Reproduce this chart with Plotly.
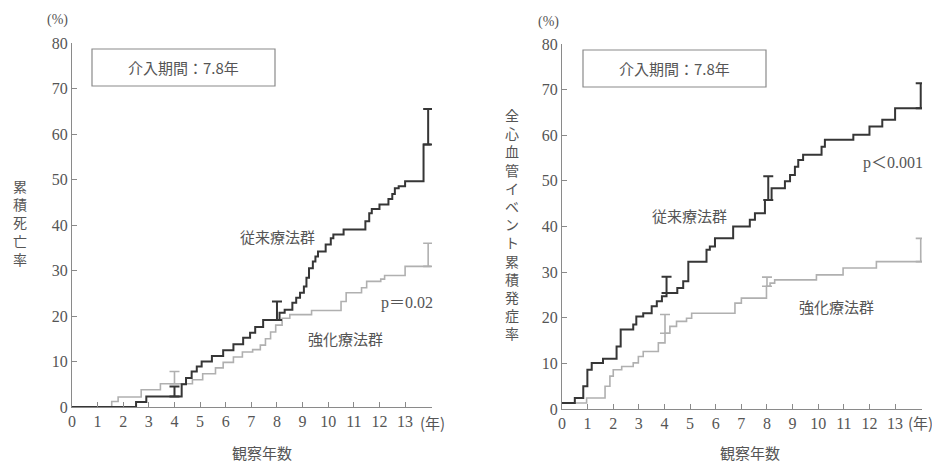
import plotly.graph_objects as go

# page body has an 8px default margin, so the figure is drawn inside it
OFF = 8
W, H = 940 - OFF, 464 - OFF

# ---------------- data ----------------
years_ticks = list(range(0, 14))

# Left panel: cumulative mortality (%)
L_conv_x = [0, 2.5, 2.9, 4.28, 4.45, 4.67, 4.87, 5.06, 5.46, 5.9, 6.3, 6.68, 6.95, 7.15, 7.46, 8.1, 8.3, 8.6, 8.75,
            8.9, 9.05, 9.15, 9.25, 9.4, 9.5, 9.6, 9.9, 10.1, 10.2, 10.6, 11.45, 11.6, 11.7, 12.0, 12.35, 12.5, 12.6,
            12.75, 13.0, 13.72, 14.0]
L_conv_y = [0, 1.1, 2.3, 5.0, 6.4, 7.8, 8.9, 10.0, 11.2, 12.5, 13.8, 15.2, 16.3, 17.6, 19.1, 20.7, 21.4, 22.9, 24.0,
            25.1, 26.5, 28.4, 30.5, 32.0, 33.1, 34.2, 35.7, 37.1, 37.9, 39.0, 40.8, 42.6, 43.5, 44.5, 45.7, 46.8, 48.1,
            48.5, 49.6, 57.7, 57.7]
L_int_x = [0, 1.55, 1.8, 2.7, 3.45, 4.7, 5.1, 5.6, 5.9, 6.3, 6.65, 7.05, 7.35, 7.55, 7.75, 7.95, 8.2, 8.5, 9.35,
           10.5, 10.7, 11.3, 11.5, 12.05, 12.2, 13.0, 14.0]
L_int_y = [0, 1.2, 2.2, 3.8, 5.1, 6.0, 7.3, 8.6, 9.8, 11.0, 12.1, 12.6, 13.6, 15.0, 16.5, 18.0, 19.5, 20.3, 21.2,
           23.2, 25.1, 26.2, 27.6, 28.1, 28.9, 30.9, 30.9]
L_conv_err_x = [4.0, 8.0, 13.9]
L_conv_err_y = [2.3, 19.1, 57.7]
L_conv_err_up = [2.2, 4.1, 7.8]
L_int_err_x = [4.0, 13.9]
L_int_err_y = [5.1, 30.9]
L_int_err_up = [2.7, 5.1]

# Right panel: cumulative total cardiovascular events (%)
R_conv_x = [0, 0.5, 0.83, 0.99, 1.16, 1.6, 2.13, 2.29, 2.78, 2.9, 3.17, 3.5, 3.7, 3.9, 4.08, 4.5, 4.73, 4.93, 5.64,
            5.77, 5.97, 6.68, 7.33, 7.53, 7.92, 8.18, 8.7, 8.9, 9.09, 9.22, 9.41, 10.13, 10.26, 11.37, 12.0, 12.5,
            13.0, 14.05]
R_conv_y = [1.3, 2.4, 5.0, 8.6, 10.1, 11.0, 13.7, 17.4, 18.5, 20.3, 21.0, 22.5, 23.6, 24.7, 25.4, 26.5, 28.0, 32.3,
            34.9, 35.6, 37.4, 40.0, 41.5, 42.9, 45.8, 48.4, 49.9, 51.3, 53.1, 54.6, 55.7, 57.5, 59.0, 60.1, 61.9,
            63.4, 65.9, 65.9]
R_int_x = [0, 0.96, 1.68, 1.87, 2.0, 2.33, 2.78, 2.98, 3.17, 3.76, 4.02, 4.21, 4.47, 4.86, 5.06, 6.75, 7.0, 7.98,
           8.12, 8.3, 9.93, 10.97, 12.27, 14.05]
R_int_y = [1.3, 2.4, 5.0, 7.2, 8.6, 9.3, 10.1, 11.5, 12.6, 14.5, 16.6, 18.1, 19.2, 19.9, 21.0, 23.2, 24.3, 26.9,
           27.6, 28.3, 29.4, 30.9, 32.3, 32.3]
R_conv_err_x = [4.08, 8.05, 14.0]
R_conv_err_y = [25.4, 45.8, 65.9]
R_conv_err_up = [3.6, 5.2, 5.5]
R_int_err_x = [4.02, 8.0, 14.0]
R_int_err_y = [16.6, 26.9, 32.3]
R_int_err_up = [4.1, 2.0, 5.1]

# ---------------- styling ----------------
DARK = "#363636"
LIGHT = "#b0b0b0"
AXIS = "#8a8a8a"
TXT = "#555555"
SERIF = "Liberation Serif, DejaVu Serif, serif"
JP = "Noto Sans CJK JP, sans-serif"
MIX = "Liberation Serif, Noto Sans CJK JP, serif"


def px(x):
    return (x - OFF) / W


def py(y):
    return 1 - (y - OFF) / H


fig = go.Figure()


def add_steps(x, y, color, width, xa, ya):
    fig.add_trace(go.Scatter(x=x, y=y, mode="lines", line=dict(color=color, width=width, shape="hv"),
                             xaxis=xa, yaxis=ya, showlegend=False, hoverinfo="skip", cliponaxis=False))


def add_err(x, y, up, color, width, xa, ya):
    fig.add_trace(go.Scatter(x=x, y=y, mode="markers", marker=dict(size=1, color="rgba(0,0,0,0)"),
                             error_y=dict(type="data", symmetric=False, array=up, arrayminus=[0] * len(up),
                                          color=color, thickness=width, width=5),
                             xaxis=xa, yaxis=ya, showlegend=False, hoverinfo="skip", cliponaxis=False))


add_steps(L_int_x, L_int_y, LIGHT, 1.6, "x", "y")
add_steps(L_conv_x, L_conv_y, DARK, 2.0, "x", "y")
add_err(L_int_err_x, L_int_err_y, L_int_err_up, LIGHT, 1.6, "x", "y")
add_err(L_conv_err_x, L_conv_err_y, L_conv_err_up, DARK, 2.0, "x", "y")

add_steps(R_int_x, R_int_y, LIGHT, 1.6, "x2", "y2")
add_steps(R_conv_x, R_conv_y, DARK, 2.0, "x2", "y2")
add_err(R_int_err_x, R_int_err_y, R_int_err_up, LIGHT, 1.6, "x2", "y2")
add_err(R_conv_err_x, R_conv_err_y, R_conv_err_up, DARK, 2.0, "x2", "y2")

xcommon = dict(range=[0, 14.05], tickvals=years_ticks, ticks="inside", ticklen=5, tickcolor=AXIS,
               showline=True, linecolor=AXIS, linewidth=1.2, showgrid=False, zeroline=False, automargin=False,
               tickfont=dict(family=SERIF, size=16, color=TXT), fixedrange=True)
ycommon = dict(range=[0, 80], tickvals=list(range(0, 81, 10)), ticks="inside", ticklen=5, tickcolor=AXIS,
               showline=True, linecolor=AXIS, linewidth=1.2, showgrid=False, zeroline=False, automargin=False,
               tickfont=dict(family=SERIF, size=16, color=TXT), fixedrange=True)

fig.update_layout(
    template="none",
    width=W, height=H, margin=dict(l=0, r=0, t=0, b=0, pad=0),
    paper_bgcolor="white", plot_bgcolor="white",
    xaxis=dict(domain=[px(72), px(432)], anchor="y", **xcommon),
    yaxis=dict(domain=[py(407), py(43)], anchor="x", **ycommon),
    xaxis2=dict(domain=[px(562), px(922)], anchor="y2", **xcommon),
    yaxis2=dict(domain=[py(409), py(44)], anchor="x2", **ycommon),
)

shapes = []
annotations = []


def box(x0, y0, x1, y1, text):
    shapes.append(dict(type="rect", xref="paper", yref="paper", x0=px(x0), x1=px(x1), y0=py(y1), y1=py(y0),
                       line=dict(color=AXIS, width=1.2), fillcolor="rgba(0,0,0,0)"))
    annotations.append(dict(xref="paper", yref="paper", x=px((x0 + x1) / 2), y=py((y0 + y1) / 2), text=text,
                            showarrow=False, font=dict(family=JP, size=15, color=TXT),
                            xanchor="center", yanchor="middle"))


def label(x, y, text, size=15, font=JP, xanchor="center"):
    annotations.append(dict(xref="paper", yref="paper", x=px(x), y=py(y), text=text, showarrow=False,
                            font=dict(family=font, size=size, color=TXT), xanchor=xanchor, yanchor="middle"))


box(92, 49, 275, 86, "介入期間：7.8年")
box(583, 50, 766, 87, "介入期間：7.8年")

label(57, 20, "(%)", 14, SERIF)
label(548, 22, "(%)", 14, SERIF)
label(432, 422, "(年)", 15, JP)
label(920, 422, "(年)", 15, JP)

label(277, 237, "従来療法群")
label(345, 338, "強化療法群")
label(407, 303, "p＝0.02", 16, MIX)
label(689, 215, "従来療法群")
label(836, 306, "強化療法群")
label(893, 163, "p＜0.001", 16, MIX)

label(262, 452, "観察年数")
label(750, 452, "観察年数")

annotations.append(dict(xref="paper", yref="paper", x=px(20), y=py(222), text="<br>".join("累積死亡率"),
                        showarrow=False, font=dict(family=JP, size=14, color=TXT), xanchor="center",
                        yanchor="middle"))
annotations.append(dict(xref="paper", yref="paper", x=px(512), y=py(224),
                        text="<br>".join("全心血管イベント累積発症率"),
                        showarrow=False, font=dict(family=JP, size=14, color=TXT), xanchor="center",
                        yanchor="middle"))

fig.update_layout(shapes=shapes, annotations=annotations)

fig.write_html("out.html")
